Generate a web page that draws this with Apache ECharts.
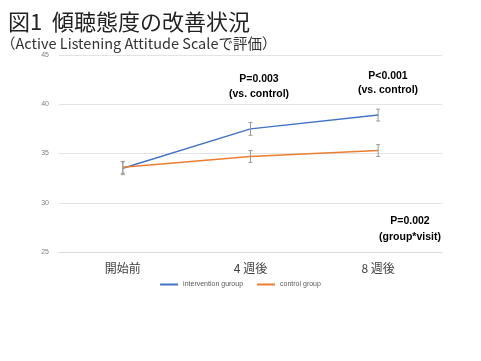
<!DOCTYPE html>
<html><head><meta charset="utf-8">
<script src="https://cdn.jsdelivr.net/npm/echarts@6/dist/echarts.min.js"></script>
<style>html,body{margin:0;padding:0;background:#fff}#c{width:481px;height:361px}</style>
</head><body><div id="c"></div>
<script>
var categories = ['開始前', '4 週後', '8 週後'];
var interventionValues = [33.5, 37.5, 38.9];
var interventionErr = [0.65, 0.65, 0.6];
var controlValues = [33.6, 34.7, 35.3];
var controlErr = [0.6, 0.6, 0.6];
var yTicks = [25, 30, 35, 40, 45];

var chart = echarts.init(document.getElementById('c'));
function errSeries(vals, errs) {
  return {
    type: 'custom', silent: true, z: 5,
    data: vals.map(function (v, i) { return [i, v - errs[i], v + errs[i]]; }),
    renderItem: function (params, api) {
      var lo = api.coord([api.value(0), api.value(1)]);
      var hi = api.coord([api.value(0), api.value(2)]);
      var w = 2;
      var st = { stroke: '#9a9a9a', lineWidth: 1 };
      return { type: 'group', children: [
        { type: 'line', shape: { x1: lo[0], y1: lo[1], x2: hi[0], y2: hi[1] }, style: st },
        { type: 'line', shape: { x1: lo[0] - w, y1: lo[1], x2: lo[0] + w, y2: lo[1] }, style: st },
        { type: 'line', shape: { x1: hi[0] - w, y1: hi[1], x2: hi[0] + w, y2: hi[1] }, style: st }
      ] };
    }
  };
}
var bold = { fontFamily: 'Liberation Sans', fontSize: 10.5, fontWeight: 'bold', fill: '#000', textAlign: 'center' };
chart.setOption({
  animation: false,
  title: [
    { text: '図1  傾聴態度の改善状況', left: 3, top: 6, textStyle: { fontFamily: 'Noto Sans CJK JP', fontSize: 22, fontWeight: 'normal', color: '#222' } },
    { text: '（Active Listening Attitude Scaleで評価）', left: -4, top: 31, textStyle: { fontFamily: 'Noto Sans CJK JP', fontSize: 14.5, fontWeight: 'normal', color: '#333' } }
  ],
  grid: { left: 59, right: 39, top: 55, bottom: 109, containLabel: false },
  xAxis: {
    type: 'category', data: categories, boundaryGap: true,
    axisLine: { show: true, lineStyle: { color: '#d9d9d9' } },
    axisTick: { show: false },
    axisLabel: { fontFamily: 'Noto Sans CJK JP', fontSize: 12, color: '#404040', margin: 10 }
  },
  yAxis: {
    type: 'value', min: 25, max: 45, interval: 5,
    axisLine: { show: false }, axisTick: { show: false },
    splitLine: { lineStyle: { color: '#e3e3e3' } },
    axisLabel: { fontFamily: 'Liberation Sans', fontSize: 7, color: '#7f7f7f', margin: 10,
      formatter: function (v) { return yTicks.indexOf(v) >= 0 ? String(v) : ''; } }
  },
  legend: {
    bottom: 68, left: 'center', itemWidth: 18, itemHeight: 2, itemGap: 14,
    icon: 'rect',
    textStyle: { fontFamily: 'Liberation Sans', fontSize: 7, color: '#595959' },
    data: ['intervention guroup', 'control group']
  },
  series: [
    { name: 'intervention guroup', type: 'line', data: interventionValues, symbol: 'none', lineStyle: { color: '#4472C4', width: 1.5 }, itemStyle: { color: '#4472C4' } },
    { name: 'control group', type: 'line', data: controlValues, symbol: 'none', lineStyle: { color: '#ED7D31', width: 1.5 }, itemStyle: { color: '#ED7D31' } },
    errSeries(interventionValues, interventionErr),
    errSeries(controlValues, controlErr)
  ],
  graphic: [
    { type: 'text', x: 259, y: 72, style: Object.assign({ text: 'P=0.003\n(vs. control)', lineHeight: 15 }, bold) },
    { type: 'text', x: 388, y: 69, style: Object.assign({ text: 'P<0.001\n(vs. control)', lineHeight: 14 }, bold) },
    { type: 'text', x: 410, y: 213, style: Object.assign({ text: 'P=0.002\n(group*visit)', lineHeight: 16 }, bold) }
  ]
});
</script></body></html>
